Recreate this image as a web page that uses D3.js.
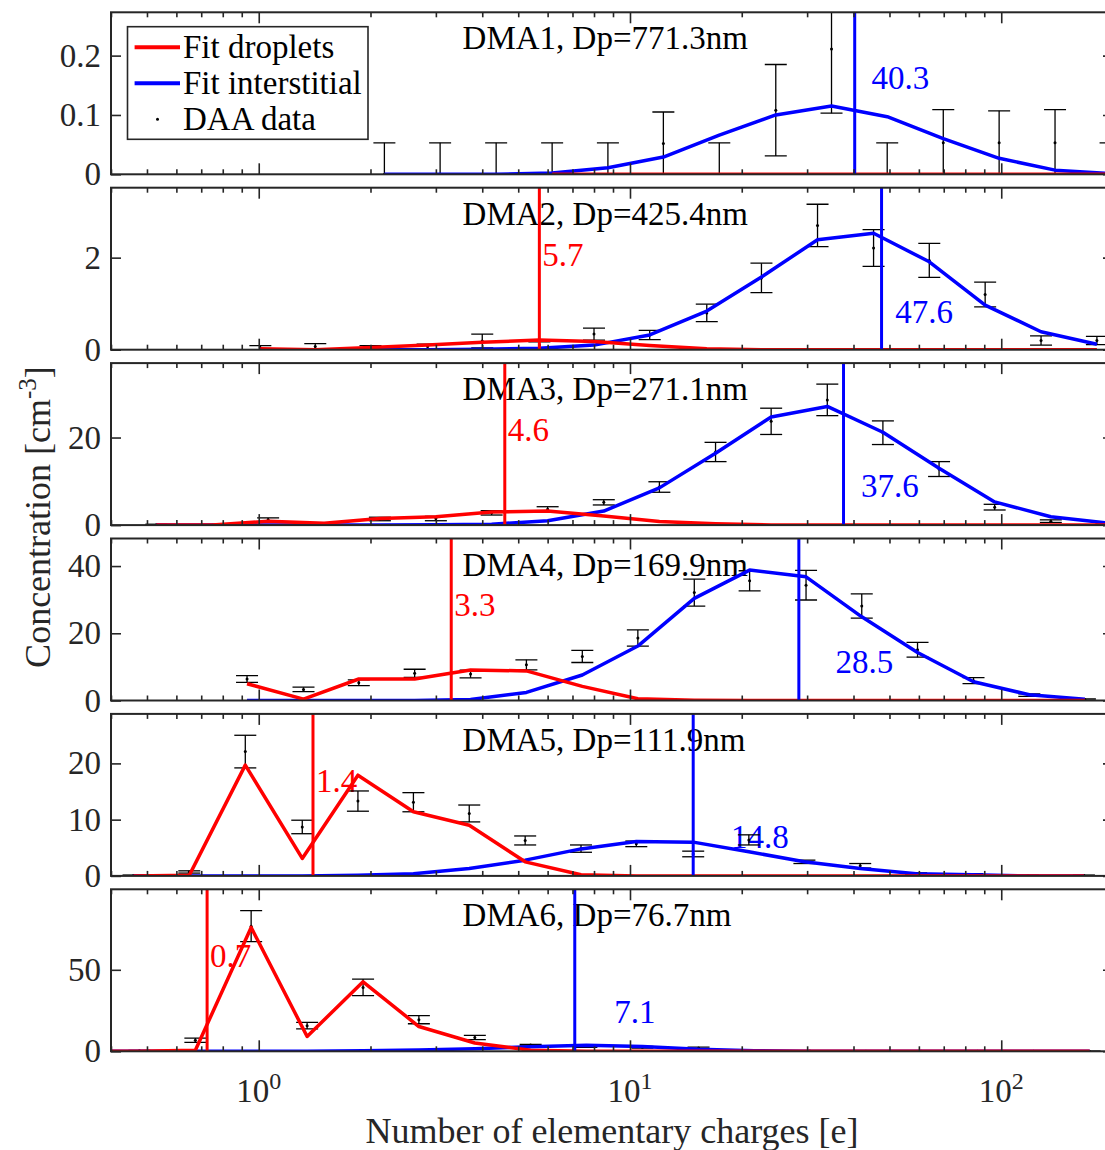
<!DOCTYPE html>
<html><head><meta charset="utf-8">
<script src="https://cdn.jsdelivr.net/npm/d3@7"></script>
<style>
body{margin:0;background:#fff}
svg{display:block}
text{font-family:"Liberation Serif","Times New Roman",serif}
</style>
</head><body>
<svg id="c" width="1105" height="1150"></svg>
<script>
// ---------------- DATA ----------------
const panelTitles = ["DMA1, Dp=771.3nm","DMA2, Dp=425.4nm","DMA3, Dp=271.1nm","DMA4, Dp=169.9nm","DMA5, Dp=111.9nm","DMA6, Dp=76.7nm"];
const yMax = [0.273, 3.52, 37.0, 48.2, 28.8, 99.4];
const yTicks = [[0,0.1,0.2],[0,2],[0,20],[0,20,40],[0,10,20],[0,50]];
const yTickLabels = [["0","0.1","0.2"],["0","2"],["0","20"],["0","20","40"],["0","10","20"],["0","50"]];
const xDomain = [0.4, 200];
const xMajor = [1, 10, 100];
const xMajorExp = ["0","1","2"];
const xMinor = [0.4,0.5,0.6,0.7,0.8,0.9,2,3,4,5,6,7,8,9,20,30,40,50,60,70,80,90,200];

// droplet (red) and interstitial (blue) mode values
const dropMode = [null, 5.7, 4.6, 3.3, 1.4, 0.726];
const dropLabel = ["", "5.7", "4.6", "3.3", "1.4", "0.7"];
const intMode = [40.3, 47.6, 37.6, 28.5, 14.8, 7.1];
const intLabel = ["40.3", "47.6", "37.6", "28.5", "14.8", "7.1"];

// Panel 1
const charges1 = [2.18,3.08,4.36,6.17,8.72,12.3,17.4,24.7,34.9,49.3,69.8,98.7,139.6,197];
const daa1 = [0,0,0,0,0,0.052,0,0.108,0.211,0,0.053,0.053,0.053,0];
const err1 = [0.053,0.053,0.053,0.053,0.053,0.053,0.053,0.077,0.108,0.053,0.056,0.054,0.056,0.053];
const drop1 = [null,null,null,0,0,0,0,0,0,0,0,0,0,0];
const int1 = [0,0,0,0.002,0.011,0.029,0.066,0.100,0.115,0.097,0.060,0.027,0.007,0.001];
// Panel 2
const charges2 = [1.01,1.42,2.0,2.85,4.0,5.7,8.0,11.3,16.1,22.6,32.0,45.3,64,90.5,128,181];
const daa2 = [0.04,0.07,0.04,0.07,0.19,0.10,0.34,0.32,0.80,1.56,2.70,2.21,1.94,1.20,0.20,0.20];
const err2 = [0.05,0.06,0.05,0.05,0.15,0.07,0.13,0.10,0.19,0.32,0.46,0.40,0.37,0.27,0.10,0.09];
const drop2 = [0.02,0.0,0.05,0.10,0.16,0.21,0.18,0.09,0.02,0,0,0,0,0,0,0];
const int2 = [0,0,0,0,0.01,0.03,0.10,0.32,0.84,1.58,2.39,2.53,1.91,0.97,0.39,0.12];
// Panel 3
const charges3 = [0.53,0.75,1.06,1.5,2.12,3.0,4.24,6.0,8.5,12.0,17.0,24.0,34.0,48.0,68.0,96.0,136,192];
const daa3 = [0.1,0.05,1.2,0.35,1.4,1.5,2.8,3.6,5.2,8.7,16.7,23.7,28.6,21.1,12.8,4.1,0.9,0.2];
const err3 = [0.1,0.1,0.45,0.2,0.4,0.5,0.5,0.6,0.6,1.2,2.2,3.0,3.6,2.7,1.7,0.65,0.3,0.1];
const drop3 = [0,0,0.9,0.4,1.5,1.9,3.0,3.2,2.1,0.8,0.3,0.05,0,0,0,0,0,0];
const int3 = [0,0,0,0,0,0.1,0.2,1.0,3.2,8.5,16.4,24.7,27.1,21.2,13.0,5.3,1.9,0.5];
// Panel 4
const charges4 = [0.93,1.32,1.86,2.63,3.72,5.26,7.44,10.5,14.9,21.0,29.8,42.1,59.5,84.2,119,168];
const daa4 = [6.4,3.3,5.3,8.1,7.9,10.6,13.1,18.6,32.1,35.6,34.3,28.1,15.1,5.9,1.6,0.3];
const err4 = [1.0,0.65,0.85,1.2,1.15,1.5,1.8,2.4,4.0,3.0,4.4,3.6,2.2,0.9,0.4,0.2];
const drop4 = [5.0,0.4,6.4,6.4,9.1,8.8,4.2,0.5,0.1,0,0,0,0,0,0,0];
const int4 = [0,0,0,0,0.3,2.4,7.6,16.2,30.4,38.8,36.8,24.9,14.3,5.6,1.7,0.4];
// Panel 5
const charges5 = [0.46,0.65,0.92,1.31,1.85,2.61,3.69,5.22,7.38,10.4,14.8,20.9,29.5,41.7,59,83.5,118,167];
const daa5 = [0.05,0.7,22.1,8.7,13.3,13.1,11.1,6.3,4.85,5.7,3.9,6.4,2.5,1.8,0.4,0.2,0.05,0.05];
const err5 = [0.1,0.2,2.9,1.2,1.8,1.7,1.5,0.8,0.65,0.5,0.5,0.9,0.3,0.4,0.15,0.2,0.1,0.1];
const drop5 = [0,0.1,19.7,3.1,17.9,11.4,9.0,2.5,0.2,0,0,0,0,0,0,0,0,0];
const int5 = [0,0,0,0,0.1,0.4,1.3,2.8,4.8,6.1,6.0,4.3,2.5,1.3,0.4,0.2,0,0];
// Panel 6
const charges6 = [0.337,0.477,0.675,0.954,1.35,1.91,2.70,3.82,5.40,7.63,10.8,15.3,21.6,30.5,43.2,61.1,86.4,122,173];
const daa6 = [0,0.3,6.8,76.8,15.7,39.2,19.4,8.5,3.8,3.0,2.5,2.0,0.5,0.2,0,0,0,0,0];
const err6 = [0.2,0.3,1.3,9.5,2.0,5.1,2.5,1.3,0.5,0.6,0.5,0.6,0.2,0.1,0.1,0.1,0.1,0.1,0.1];
const drop6 = [0,0,0.6,76,9.1,42.6,15.2,5.1,0.6,0,0,0,0,0,0,0,0,0,0];
const int6 = [0,0,0,0,0.1,0.4,0.8,1.6,2.8,3.7,3.0,1.2,0.4,0.1,0,0,0,0,0];

const charges = [charges1,charges2,charges3,charges4,charges5,charges6];
const daa = [daa1,daa2,daa3,daa4,daa5,daa6];
const errs = [err1,err2,err3,err4,err5,err6];
const drops = [drop1,drop2,drop3,drop4,drop5,drop6];
const ints = [int1,int2,int3,int4,int5,int6];

// annotation placement (x in data units, y as fraction from top of panel)
const titleX = 3.54;
const intLabelX = [44.7, 51.8, 41.9, 35.8, 18.7, 9.07];
const intLabelYFrac = [0.475, 0.833, 0.827, 0.833, 0.827, 0.827];
const dropLabelYFrac = 0.481;

const legendItems = ["Fit droplets","Fit interstitial","DAA data"];

// ---------------- DRAW ----------------
const RED = "#ff0000", BLUE = "#0000ff", AX = "#262626";
const svg = d3.select("#c");
const left = 111, right = 1113;
const top0 = 12.3, step = 175.4, ph = 162;
const x = d3.scaleLog().domain(xDomain).range([left, right]);

const defs = svg.append("defs");

for (let i = 0; i < 6; i++) {
  const top = top0 + i*step, bot = top + ph;
  const y = d3.scaleLinear().domain([0, yMax[i]]).range([bot, top]);
  const g = svg.append("g");
  defs.append("clipPath").attr("id","clip"+i).append("rect")
    .attr("x", left).attr("y", top).attr("width", right-left).attr("height", ph);

  // white background
  g.append("rect").attr("x",left).attr("y",top).attr("width",right-left).attr("height",ph).attr("fill","#fff");

  // texts (drawn before marks)
  g.append("text").attr("x", x(titleX)).attr("y", top + 37)
    .attr("font-size", 33).attr("fill", "#000").text(panelTitles[i]);
  if (dropMode[i] != null) {
    g.append("text").attr("x", x(dropMode[i]) + 3).attr("y", top + dropLabelYFrac*ph + 0)
      .attr("font-size", 33).attr("fill", RED).text(dropLabel[i]);
  }
  g.append("text").attr("x", x(intLabelX[i])).attr("y", top + intLabelYFrac[i]*ph)
    .attr("font-size", 33).attr("fill", BLUE).text(intLabel[i]);

  const data = charges[i].map((c,k)=>({c, v: daa[i][k], e: errs[i][k], d: drops[i][k], b: ints[i][k]}));
  const m = g.append("g").attr("clip-path", `url(#clip${i})`);

  // error bars
  const eb = m.append("g").attr("stroke", "#000").attr("stroke-width", 1.3);
  data.forEach(d => {
    const cx = x(d.c);
    eb.append("line").attr("x1",cx).attr("x2",cx).attr("y1",y(d.v - d.e)).attr("y2",y(d.v + d.e));
    eb.append("line").attr("x1",cx-11).attr("x2",cx+11).attr("y1",y(d.v - d.e)).attr("y2",y(d.v - d.e));
    eb.append("line").attr("x1",cx-11).attr("x2",cx+11).attr("y1",y(d.v + d.e)).attr("y2",y(d.v + d.e));
  });
  m.append("g").selectAll("circle").data(data).join("circle")
    .attr("cx", d=>x(d.c)).attr("cy", d=>y(d.v)).attr("r", 1.5).attr("fill", "#000");

  // fits
  const lineB = d3.line().defined(d=>d.b!=null).x(d=>x(d.c)).y(d=>y(d.b));
  const lineR = d3.line().defined(d=>d.d!=null).x(d=>x(d.c)).y(d=>y(d.d));
  m.append("path").attr("d", lineB(data)).attr("fill","none").attr("stroke",BLUE).attr("stroke-width",3.5).attr("stroke-linejoin","round");
  m.append("path").attr("d", lineR(data)).attr("fill","none").attr("stroke",RED).attr("stroke-width",3.5).attr("stroke-linejoin","round");

  // mode lines
  if (dropMode[i] != null) {
    m.append("line").attr("x1",x(dropMode[i])).attr("x2",x(dropMode[i])).attr("y1",y(0)).attr("y2",y(yMax[i]))
      .attr("stroke",RED).attr("stroke-width",3);
  }
  m.append("line").attr("x1",x(intMode[i])).attr("x2",x(intMode[i])).attr("y1",y(0)).attr("y2",y(yMax[i]))
    .attr("stroke",BLUE).attr("stroke-width",3);

  // axes
  const styleAxis = sel => {
    sel.select(".domain").remove();
    sel.selectAll("line").attr("stroke", AX).attr("stroke-width", 1.6);
    sel.selectAll("text").attr("fill", AX).attr("font-size", 33).attr("font-family", '"Liberation Serif","Times New Roman",serif');
  };
  const fmt = d => yTickLabels[i][yTicks[i].indexOf(d)];
  svg.append("g").attr("transform", `translate(${left},0)`)
    .call(d3.axisLeft(y).tickValues(yTicks[i]).tickFormat(fmt).tickSize(-10).tickSizeOuter(0).tickPadding(10))
    .call(styleAxis);
  svg.append("g").attr("transform", `translate(${right},0)`)
    .call(d3.axisRight(y).tickValues(yTicks[i]).tickFormat("").tickSize(-10).tickSizeOuter(0))
    .call(styleAxis);
  // x major/minor ticks top and bottom
  svg.append("g").attr("transform", `translate(0,${bot})`)
    .call(d3.axisBottom(x).tickValues(xMajor).tickFormat("").tickSize(-11).tickSizeOuter(0)).call(styleAxis);
  svg.append("g").attr("transform", `translate(0,${bot})`)
    .call(d3.axisBottom(x).tickValues(xMinor).tickFormat("").tickSize(-5).tickSizeOuter(0)).call(styleAxis);
  svg.append("g").attr("transform", `translate(0,${top})`)
    .call(d3.axisTop(x).tickValues(xMajor).tickFormat("").tickSize(-11).tickSizeOuter(0)).call(styleAxis);
  svg.append("g").attr("transform", `translate(0,${top})`)
    .call(d3.axisTop(x).tickValues(xMinor).tickFormat("").tickSize(-5).tickSizeOuter(0)).call(styleAxis);

  // box
  svg.append("rect").attr("x",left).attr("y",top).attr("width",right-left).attr("height",ph)
    .attr("fill","none").attr("stroke",AX).attr("stroke-width",2);

  if (i === 5) {
    const lab = svg.append("g").attr("transform", `translate(0,${bot})`);
    xMajor.forEach((v,k) => {
      const t = lab.append("text").attr("x", x(v)).attr("y", 51).attr("text-anchor","middle")
        .attr("fill", AX).attr("font-size", 33);
      t.append("tspan").text("10");
      t.append("tspan").attr("font-size", 24).attr("dy", -13).text(xMajorExp[k]);
    });
  }

  if (i === 0) {
    const lg = svg.append("g");
    const lx = 127.5, ly = 26.7, lw = 240.5, lh = 112.6;
    lg.append("rect").attr("x",lx).attr("y",ly).attr("width",lw).attr("height",lh)
      .attr("fill","#fff").attr("stroke",AX).attr("stroke-width",1.6);
    const rows = [47.3, 83.3, 119.3];
    lg.append("line").attr("x1",134.6).attr("x2",180).attr("y1",rows[0]).attr("y2",rows[0]).attr("stroke",RED).attr("stroke-width",4);
    lg.append("line").attr("x1",134.6).attr("x2",180).attr("y1",rows[1]).attr("y2",rows[1]).attr("stroke",BLUE).attr("stroke-width",4);
    lg.append("circle").attr("cx",157.5).attr("cy",rows[2]).attr("r",1.5).attr("fill","#000");
    legendItems.forEach((t,k) => {
      lg.append("text").attr("x",183).attr("y",rows[k]+11).attr("font-size",33).attr("fill","#000").text(t);
    });
  }
}

// axis titles
svg.append("text").attr("x", (left+right)/2).attr("y", 1143).attr("text-anchor","middle")
  .attr("font-size", 36).attr("fill", AX).text("Number of elementary charges [e]");
const yl = svg.append("text").attr("transform","translate(50,517) rotate(-90)").attr("text-anchor","middle")
  .attr("font-size", 36).attr("fill", AX);
yl.append("tspan").text("Concentration [cm");
yl.append("tspan").attr("font-size", 25).attr("dy", -14).text("-3");
yl.append("tspan").attr("dy", 14).text("]");
</script>
</body></html>
